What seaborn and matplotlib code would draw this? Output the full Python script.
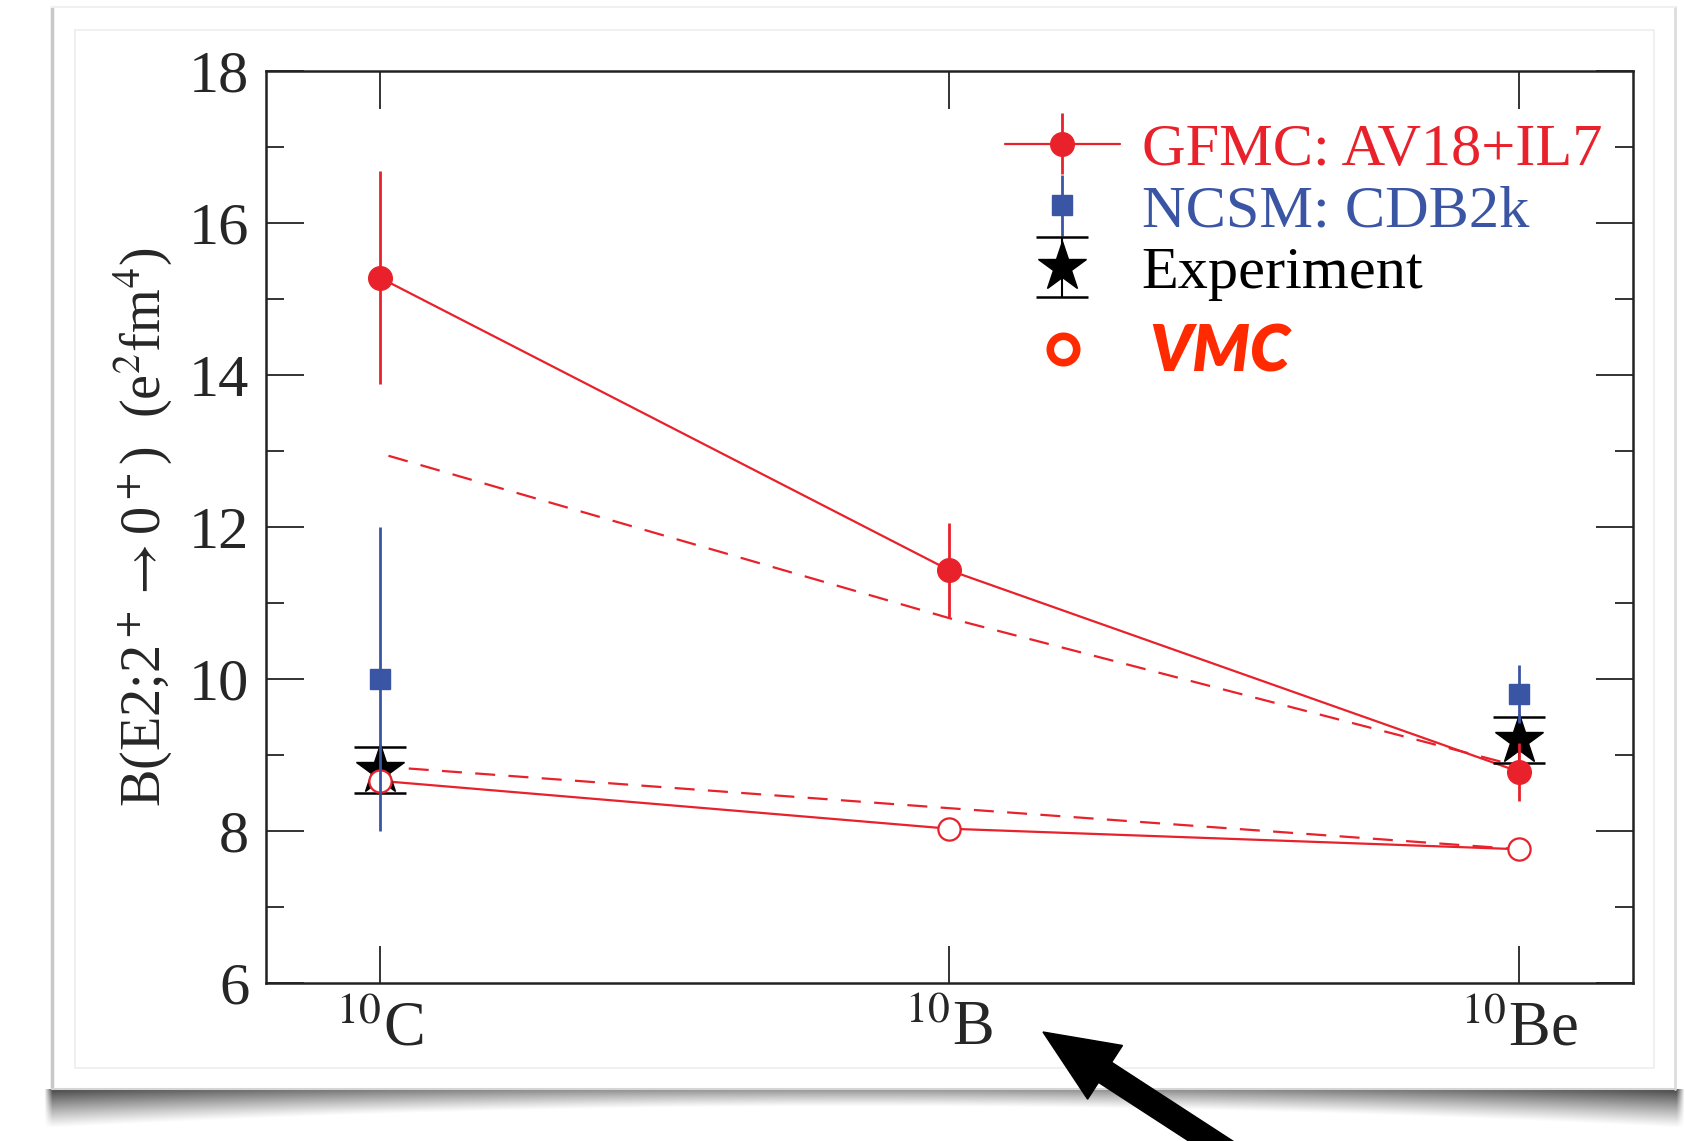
import numpy as np
import pandas as pd
import matplotlib
matplotlib.use("Agg")
import matplotlib.pyplot as plt
from matplotlib.lines import Line2D
from matplotlib.patches import FancyArrow
import seaborn as sns

# ---------------- data ----------------
nuclei = ["C", "B", "Be"]
tick_labels = [r"$^{10}$C", r"$^{10}$B", r"$^{10}$Be"]

gfmc_val = [15.28, 11.43, 8.78]
gfmc_err = [1.40, 0.62, 0.38]

ncsm_nuclei = ["C", "Be"]
ncsm_val = [10.0, 9.8]
ncsm_err = [2.0, 0.38]

exp_nuclei = ["C", "Be"]
exp_val = [8.80, 9.20]
exp_err = [0.30, 0.30]

vmc_val = [8.66, 8.03, 7.76]

gfmc_dashed = [12.97, 10.80, 8.85]
vmc_dashed = [8.85, 8.30, 7.76]

y_ticks = [6, 8, 10, 12, 14, 16, 18]

legend_labels = ["GFMC: AV18+IL7", "NCSM: CDB2k", "Experiment", "VMC"]

# ---------------- style ----------------
sns.set_theme(style="ticks")
plt.rcParams["font.family"] = ["Liberation Serif", "DejaVu Serif"]
plt.rcParams["mathtext.fontset"] = "stix"
plt.rcParams["axes.unicode_minus"] = False

RED = "#e8212b"
BLUE = "#3b55a5"
VMCRED = "#ff2a00"
FS = 43.5

W, H = 1686, 1141
fig = plt.figure(figsize=(W / 100, H / 100), dpi=100, facecolor="white")

# ---------------- decorative card / shadow / arrow ----------------
bg = fig.add_axes([0, 0, 1, 1], zorder=0)
bg.set_xlim(0, W)
bg.set_ylim(H, 0)
bg.axis("off")

xs = np.arange(40, 1686)
ys = np.arange(1086, 1141)
XX, YY = np.meshgrid(xs, ys)
u = (XX - 865) / 820.0
ybot = 1106 + 22 * u ** 2
frac = np.clip((YY - 1089) / (ybot - 1089), 0, 1)
alpha = (0.42 + 0.30 * u ** 2) * (1 - frac) ** 1.1
alpha[YY < 1089] = 0
edge = np.clip((XX - 44) / 8.0, 0, 1) * np.clip((1684 - XX) / 8.0, 0, 1)
alpha *= edge
img = np.zeros(XX.shape + (4,))
img[..., 3] = alpha
bg.imshow(img, extent=(40, 1686, 1141, 1086), interpolation="bilinear", zorder=1)
# card edges
bg.plot([52, 52], [7, 1089], color="#c8c8c8", lw=2.5, zorder=2, solid_capstyle="butt")
bg.plot([1675, 1675], [7, 1089], color="#dddddd", lw=2.0, zorder=2)
bg.plot([52, 1675], [7, 7], color="#f0f0f0", lw=1.5, zorder=2)
bg.plot([52, 1675], [1089, 1089], color="#d5d5d5", lw=1.5, zorder=2)
# inner faint border
bg.plot([75, 1654, 1654, 75, 75], [30, 30, 1068, 1068, 30], color="#ededed", lw=1.2, zorder=2)
# arrow
bg.add_patch(FancyArrow(1240, 1160, 1043 - 1240, 1032 - 1160, width=24, head_width=64,
                        head_length=74, length_includes_head=True, color="black", zorder=5))

# ---------------- main axes ----------------
ax = fig.add_axes([266 / W, 1 - 983 / H, (1633 - 266) / W, (983 - 71) / H], zorder=2)
ax.set_facecolor("white")

pos = {n: i for i, n in enumerate(nuclei)}
x_all = [pos[n] for n in nuclei]

df_lines = pd.DataFrame({
    "x": x_all * 4,
    "y": gfmc_val + vmc_val + gfmc_dashed + vmc_dashed,
    "set": ["gfmc"] * 3 + ["vmc"] * 3 + ["gd"] * 3 + ["vd"] * 3,
})

sns.lineplot(data=df_lines[df_lines.set == "gfmc"], x="x", y="y", color=RED, lw=1.6,
             ax=ax, zorder=3, legend=False, estimator=None, sort=False)
sns.lineplot(data=df_lines[df_lines.set == "vmc"], x="x", y="y", color=RED, lw=1.6,
             ax=ax, zorder=3, legend=False, estimator=None, sort=False)
sns.lineplot(data=df_lines[df_lines.set == "gd"], x="x", y="y", color=RED, lw=1.6,
             linestyle=(11, (9, 6)), ax=ax, zorder=3, legend=False, estimator=None, sort=False)
sns.lineplot(data=df_lines[df_lines.set == "vd"], x="x", y="y", color=RED, lw=1.6,
             linestyle=(2, (9, 6)), ax=ax, zorder=3, legend=False, estimator=None, sort=False)

# Experiment
exp_x = [pos[n] for n in exp_nuclei]
h_exp = ax.errorbar(exp_x, exp_val, yerr=exp_err, fmt="*", ms=37, color="black",
                    mec="black", ecolor="black", elinewidth=1.5, capsize=19, capthick=1.8,
                    zorder=4)
# VMC
ax.plot(x_all, vmc_val, "o", ms=16, mfc="white", mec=RED, mew=1.6, zorder=5, ls="none")
# NCSM
ncsm_x = [pos[n] for n in ncsm_nuclei]
h_ncsm = ax.errorbar(ncsm_x, ncsm_val, yerr=ncsm_err, fmt="s", ms=15, color=BLUE,
                     ecolor=BLUE, elinewidth=2.0, capsize=0, zorder=6)
# GFMC
h_gfmc = ax.errorbar(x_all, gfmc_val, yerr=gfmc_err, fmt="o", ms=17, color=RED,
                     ecolor=RED, elinewidth=2.0, capsize=0, zorder=7, ls="none")

ax.set_xlim(-0.2, 2.2)
ax.set_ylim(6, 18)
ax.set_xticks(x_all)
ax.set_xticklabels(tick_labels, fontsize=FS + 1.5)
ax.set_yticks(y_ticks)
ax.set_yticklabels([str(t) for t in y_ticks], fontsize=FS)
ax.set_yticks([7, 9, 11, 13, 15, 17], minor=True)
ax.tick_params(axis="both", which="major", direction="in", length=27, width=1.4,
               color="#333333", top=True, right=True)
ax.tick_params(axis="y", which="minor", direction="in", length=13, width=1.4,
               color="#333333", left=True, right=True)
ax.tick_params(axis="y", which="major", pad=12)
ax.tick_params(axis="x", which="major", pad=13)
for s in ax.spines.values():
    s.set_linewidth(1.8)
    s.set_color("#222222")
    s.set_visible(True)

ax.set_xlabel("")
ax.set_ylabel(r"B(E2;2$^+\rightarrow$0$^+$)  (e$^2$fm$^4$)", fontsize=FS - 3, labelpad=11)

# legend (line + errorbar handles)
h_gfmc_leg = ax.errorbar([], [], yerr=[], fmt="-o", ms=17, color=RED, ecolor=RED,
                         elinewidth=2.0, lw=1.6)
leg1 = ax.legend([h_gfmc_leg, h_ncsm, h_exp], legend_labels[:3], loc="upper left",
                 bbox_to_anchor=(0.5406, 0.9436), frameon=False, fontsize=FS,
                 handlelength=1.90, handletextpad=0.36, labelspacing=0.107,
                 borderpad=0, borderaxespad=0, numpoints=1)
for t, c in zip(leg1.get_texts(), [RED, BLUE, "black"]):
    t.set_color(c)
ax.add_artist(leg1)

h_vmc_leg = Line2D([], [], marker="o", ls="none", ms=19, mfc="white", mec=VMCRED, mew=5.5)
leg2 = ax.legend([h_vmc_leg], legend_labels[3:], loc="upper left",
                 bbox_to_anchor=(0.5406, 0.7235), frameon=False, fontsize=FS + 3,
                 handlelength=1.80, handletextpad=0.43, borderpad=0, borderaxespad=0,
                 numpoints=1)
vt = leg2.get_texts()[0]
vt.set_color(VMCRED)
vt.set_fontfamily(["Lato", "DejaVu Sans"])
vt.set_fontweight("heavy")
vt.set_fontstyle("italic")

fig.savefig("out.png", dpi=100, facecolor="white")
